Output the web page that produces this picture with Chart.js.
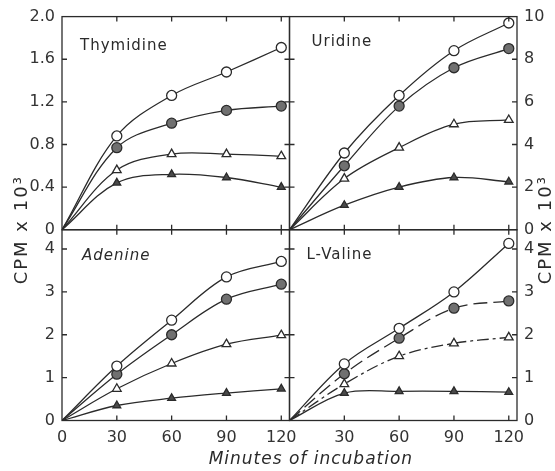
<!DOCTYPE html>
<html><head><meta charset="utf-8">
<script src="https://cdn.jsdelivr.net/npm/chart.js@4/dist/chart.umd.min.js"></script>
<style>html,body{margin:0;padding:0;background:#fff;}#wrap{position:relative;width:555px;height:471px;}</style>
</head><body><div id="wrap"><canvas id="c" width="555" height="471"></canvas></div>
<script>
// ---- data ----
const minutes = [0, 30, 60, 90, 120];
const panelNames = ['Thymidine', 'Uridine', 'Adenine', 'L-Valine'];
const xTickLabels = [0, 30, 60, 90, 120];
const xTickLabelsRight = [30, 60, 90, 120];
const thymidineTicks = [0, 0.4, 0.8, 1.2, 1.6, 2.0];
const uridineTicks = [0, 2, 4, 6, 8, 10];
const adenineTicks = [0, 1, 2, 3, 4];
const valineTicks = [0, 1, 2, 3, 4];
const xMax = 124.5;
const topLeftMax = 2.0, topRightMax = 10, bottomMax = 4.45;

const thymidineOpenCircle    = [0, 0.88, 1.26, 1.48, 1.71];
const thymidineFilledCircle  = [0, 0.77, 1.00, 1.12, 1.16];
const thymidineOpenTriangle  = [0, 0.56, 0.71, 0.71, 0.69];
const thymidineFilledTriangle= [0, 0.44, 0.52, 0.49, 0.40];

const uridineOpenCircle    = [0, 3.6, 6.3, 8.4, 9.7];
const uridineFilledCircle  = [0, 3.0, 5.8, 7.6, 8.5];
const uridineOpenTriangle  = [0, 2.4, 3.85, 4.95, 5.15];
const uridineFilledTriangle= [0, 1.15, 2.0, 2.45, 2.25];

const adenineOpenCircle    = [0, 1.27, 2.34, 3.35, 3.71];
const adenineFilledCircle  = [0, 1.08, 2.0, 2.83, 3.18];
const adenineOpenTriangle  = [0, 0.74, 1.33, 1.78, 1.99];
const adenineFilledTriangle= [0, 0.35, 0.52, 0.64, 0.74];

const valineOpenCircle    = [0, 1.32, 2.15, 3.0, 4.13];
const valineFilledCircle  = [0, 1.09, 1.92, 2.62, 2.79];
const valineOpenTriangle  = [0, 0.85, 1.5, 1.8, 1.94];
const valineFilledTriangle= [0, 0.64, 0.68, 0.68, 0.66];

// ---- styling ----
const INK = '#2b2b2b';
const markers = {
  openCircle:    {pointStyle: 'circle',   bg: '#ffffff', r: 5},
  filledCircle:  {pointStyle: 'circle',   bg: '#707070', r: 5},
  openTriangle:  {pointStyle: 'triangle', bg: '#ffffff', r: 5},
  filledTriangle:{pointStyle: 'triangle', bg: '#4a4a4a', r: 4.5}
};
function series(label, values, kind, xID, yID, dash) {
  const m = markers[kind];
  return {
    label, xAxisID: xID, yAxisID: yID,
    data: minutes.map((t, i) => ({x: t, y: values[i]})),
    borderColor: INK, borderWidth: 1.3, borderDash: dash || [],
    tension: 0.35,
    pointStyle: m.pointStyle, pointBackgroundColor: m.bg, pointBorderColor: INK,
    pointBorderWidth: 1.3,
    pointRadius: ctx => ctx.dataIndex === 0 ? 0 : m.r,
    pointHoverRadius: ctx => ctx.dataIndex === 0 ? 0 : m.r,
    fill: false
  };
}
const datasets = [
  series('Thymidine ○', thymidineOpenCircle, 'openCircle', 'xL', 'yTL'),
  series('Thymidine ●', thymidineFilledCircle, 'filledCircle', 'xL', 'yTL'),
  series('Thymidine △', thymidineOpenTriangle, 'openTriangle', 'xL', 'yTL'),
  series('Thymidine ▲', thymidineFilledTriangle, 'filledTriangle', 'xL', 'yTL'),
  series('Uridine ○', uridineOpenCircle, 'openCircle', 'xR', 'yTR'),
  series('Uridine ●', uridineFilledCircle, 'filledCircle', 'xR', 'yTR'),
  series('Uridine △', uridineOpenTriangle, 'openTriangle', 'xR', 'yTR'),
  series('Uridine ▲', uridineFilledTriangle, 'filledTriangle', 'xR', 'yTR'),
  series('Adenine ○', adenineOpenCircle, 'openCircle', 'xL', 'yBL'),
  series('Adenine ●', adenineFilledCircle, 'filledCircle', 'xL', 'yBL'),
  series('Adenine △', adenineOpenTriangle, 'openTriangle', 'xL', 'yBL'),
  series('Adenine ▲', adenineFilledTriangle, 'filledTriangle', 'xL', 'yBL'),
  series('L-Valine ○', valineOpenCircle, 'openCircle', 'xR', 'yBR'),
  series('L-Valine ●', valineFilledCircle, 'filledCircle', 'xR', 'yBR', [14, 6]),
  series('L-Valine △', valineOpenTriangle, 'openTriangle', 'xR', 'yBR', [12, 4, 3, 4]),
  series('L-Valine ▲', valineFilledTriangle, 'filledTriangle', 'xR', 'yBR')
];

const tickFont = {family: 'DejaVu Sans', size: 16};
function fixedTicks(arr) { return s => { s.ticks = arr.map(v => ({value: v})); }; }
function yAxis(pos, stack, weight, sw, max, ticks, fmt, width) {
  return {
    type: 'linear', position: pos, stack, weight, stackWeight: sw, min: 0, max,
    afterBuildTicks: fixedTicks(ticks),
    afterFit: s => { s.width = width; },
    ticks: {font: tickFont, color: '#333', padding: 7, callback: fmt, autoSkip: false},
    grid: {display: false, drawTicks: false}, border: {display: false}
  };
}
function xAxis(weight, ticks) {
  return {
    type: 'linear', position: 'bottom', stack: 'x', weight, stackWeight: 1, min: 0, max: xMax,
    afterBuildTicks: fixedTicks(ticks),
    afterFit: s => { s.height = 50.5; },
    ticks: {font: tickFont, color: '#333', padding: 8, autoSkip: false, maxRotation: 0},
    grid: {display: false, drawTicks: false}, border: {display: false}
  };
}
const intFmt = v => String(v);
const decFmt = v => v === 0 ? '0' : v.toFixed(1);

const panels = [
  {x: 'xL', y: 'yTL', name: panelNames[0], yt: thymidineTicks, dx: 18, dy: 30, italic: false},
  {x: 'xR', y: 'yTR', name: panelNames[1], yt: uridineTicks, dx: 22, dy: 26, italic: false},
  {x: 'xL', y: 'yBL', name: panelNames[2], yt: adenineTicks, dx: 20, dy: 26, italic: true},
  {x: 'xR', y: 'yBR', name: panelNames[3], yt: valineTicks, dx: 17, dy: 25, italic: false}
];

const panelPlugin = {
  id: 'panels',
  afterDatasetsDraw(chart) {
    const ctx = chart.ctx;
    ctx.save();
    ctx.strokeStyle = INK; ctx.lineWidth = 1.3;
    for (const p of panels) {
      const xs = chart.scales[p.x], ys = chart.scales[p.y];
      const L = xs.left, R = xs.right, T = ys.top, B = ys.bottom;
      ctx.strokeRect(L, T, R - L, B - T);
      ctx.beginPath();
      for (const v of xTickLabels) {
        if (v <= 0) continue;
        const px = xs.getPixelForValue(v);
        ctx.moveTo(px, B); ctx.lineTo(px, B - 5);
        ctx.moveTo(px, T); ctx.lineTo(px, T + 5);
      }
      for (const v of p.yt) {
        if (v <= 0 || v >= ys.max) continue;
        const py = ys.getPixelForValue(v);
        ctx.moveTo(L, py); ctx.lineTo(L + 5, py);
        ctx.moveTo(R, py); ctx.lineTo(R - 5, py);
      }
      ctx.stroke();
    }
    ctx.restore();
  },
  afterDraw(chart) {
    const ctx = chart.ctx;
    ctx.save();
    ctx.fillStyle = '#2a2a2a';
    ctx.textBaseline = 'middle';
    ctx.textAlign = 'left';
    for (const p of panels) {
      const xs = chart.scales[p.x], ys = chart.scales[p.y];
      ctx.font = (p.italic ? 'italic ' : '') + '15px "DejaVu Sans"';
      ctx.letterSpacing = '1px';
      ctx.fillText(p.name, xs.left + p.dx, ys.top + p.dy);
    }
    // axis titles
    const ca = chart.chartArea;
    ctx.font = '18px "DejaVu Sans"';
    ctx.letterSpacing = '2px';
    ctx.textAlign = 'center';
    const yMid = chart.scales.yTL.bottom;
    ctx.save(); ctx.translate(22, yMid); ctx.rotate(-Math.PI / 2);
    ctx.fillText('CPM x 10³', 0, 0); ctx.restore();
    ctx.save(); ctx.translate(546, yMid); ctx.rotate(-Math.PI / 2);
    ctx.fillText('CPM x 10³', 0, 0); ctx.restore();
    ctx.font = 'italic 17px "DejaVu Sans"';
    ctx.letterSpacing = '1px';
    ctx.fillText('Minutes of incubation', ca.left + (ca.right - ca.left) * 0.547, 460);
    ctx.restore();
  }
};

new Chart(document.getElementById('c'), {
  type: 'line',
  data: {datasets},
  options: {
    responsive: false, animation: false, devicePixelRatio: 1,
    layout: {padding: {left: 18, right: 8, top: 14, bottom: 0}},
    plugins: {legend: {display: false}, tooltip: {enabled: false}},
    scales: {
      xL: xAxis(1, xTickLabels),
      xR: xAxis(2, xTickLabelsRight),
      yTL: yAxis('left', 'yl', 2, 214.5, topLeftMax, thymidineTicks, decFmt, 44),
      yBL: yAxis('left', 'yl', 1, 192, bottomMax, adenineTicks, intFmt, 44),
      yTR: yAxis('right', 'yr', 1, 214.5, topRightMax, uridineTicks, intFmt, 30),
      yBR: yAxis('right', 'yr', 2, 192, bottomMax, valineTicks, intFmt, 30)
    }
  },
  plugins: [panelPlugin]
});
</script></body></html>
